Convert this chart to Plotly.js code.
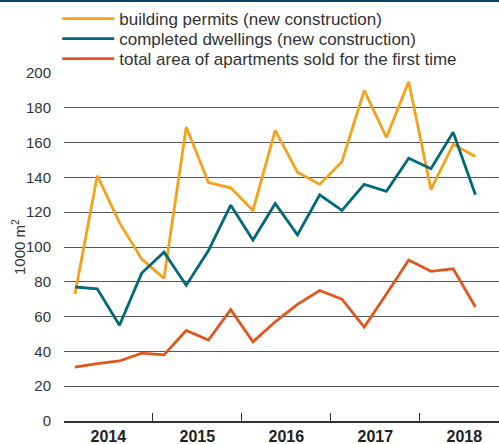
<!DOCTYPE html>
<html>
<head>
<meta charset="utf-8">
<script src="https://cdn.plot.ly/plotly-3.0.1.min.js"></script>
<style>
html,body{margin:0;padding:0;background:#fff;}
#chart{width:499px;height:444px;position:relative;}
#topbar{position:absolute;left:0;top:0;width:499px;height:2px;background:#0e4560;z-index:10;}
</style>
</head>
<body>
<div id="topbar"></div>
<div id="chart"></div>
<script>
const quarters = ['2014Q1','2014Q2','2014Q3','2014Q4','2015Q1','2015Q2','2015Q3','2015Q4',
  '2016Q1','2016Q2','2016Q3','2016Q4','2017Q1','2017Q2','2017Q3','2017Q4','2018Q1','2018Q2','2018Q3'];
const years = ['2014','2015','2016','2017','2018'];
const buildingPermits = [73,141,114,93,82,169,137,134,121,167,143,136,149,190,163,195,133,159,152];
const completedDwellings = [77,76,55,85,97,78,98,124,104,125,107,130,121,136,132,151,145,166,130];
const apartmentsSold = [31,33,34.5,39,38,52,46.5,64,45.5,57,67,75,70,54,73,92.5,86,87.5,65.5];
const yTitle = '1000 m<sup>2</sup>';

const xi = quarters.map((q, i) => i);
const yearBounds = years.map((y, k) => 4 * k - 0.5);
const yearCentres = years.map((y, k) => 4 * k + 1.5);

const font = 'Liberation Sans, Arial, Helvetica, sans-serif';
const traces = [
  {x: xi, y: buildingPermits, name: 'building permits (new construction)', type: 'scatter', mode: 'lines',
   line: {color: '#f5a11c', width: 2.8}, legend: 'legend'},
  {x: xi, y: completedDwellings, name: 'completed dwellings (new construction)', type: 'scatter', mode: 'lines',
   line: {color: '#006a7a', width: 2.8}, legend: 'legend2'},
  {x: xi, y: apartmentsSold, name: 'total area of apartments sold for the first time', type: 'scatter', mode: 'lines',
   line: {color: '#e0561f', width: 2.8}, legend: 'legend3'}
];

function leg(y) {
  return {x: -0.0155, xanchor: 'left', y: y, yanchor: 'top', bgcolor: 'rgba(0,0,0,0)',
    font: {family: font, size: 17, color: '#333'}, itemwidth: 52};
}

const layout = {
  width: 499, height: 444,
  margin: {l: 64, r: 0, t: 73, b: 23, pad: 0},
  paper_bgcolor: '#fff', plot_bgcolor: '#fff',
  font: {family: font, size: 16, color: '#333'},
  showlegend: true,
  legend: leg(1.2069),
  legend2: leg(1.1494),
  legend3: leg(1.0920),
  xaxis: {
    range: [-0.494, 19.06], tickmode: 'array', tickvals: yearCentres, ticktext: years,
    ticks: '', showgrid: false, zeroline: false,
    showline: true, linecolor: '#333', linewidth: 1.5,
    tickfont: {family: font, size: 16, color: '#222', weight: 'bold'},
    minor: {tickmode: 'array', tickvals: yearBounds, ticks: 'inside', ticklen: 8, tickwidth: 1.2, tickcolor: '#333', showgrid: false},
    fixedrange: true
  },
  yaxis: {
    range: [0, 200], tickmode: 'array', tickvals: [0,20,40,60,80,100,120,140,160,180,200],
    showgrid: true, gridcolor: '#555', gridwidth: 1, zeroline: false, showline: false,
    ticks: 'outside', ticklen: 9, tickcolor: 'rgba(0,0,0,0)',
    tickfont: {family: font, size: 15, color: '#333'},
    fixedrange: true
  },
  annotations: [{
    text: yTitle, xref: 'paper', yref: 'paper', x: 0, y: 0.5, xanchor: 'center', yanchor: 'middle',
    xshift: -46, textangle: -90, showarrow: false, font: {family: font, size: 15, color: '#333'}
  }]
};

Plotly.newPlot('chart', traces, layout, {displayModeBar: false, staticPlot: true});
</script>
</body>
</html>
